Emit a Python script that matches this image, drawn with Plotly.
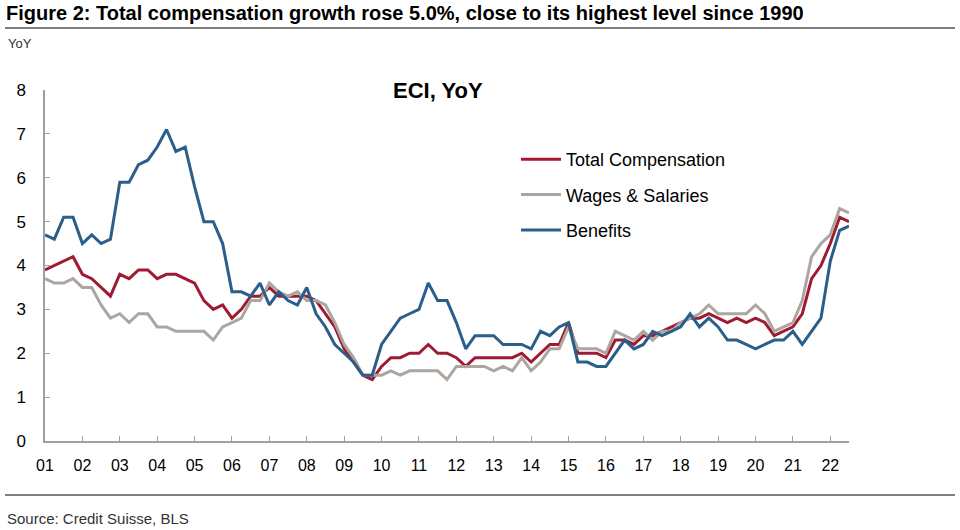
import plotly.graph_objects as go

# ---- data (quarterly, 2001Q1 .. 2022Q3) ----
start_year = 2001
total_comp = [3.9, 4.0, 4.1, 4.2, 3.8, 3.7, 3.5, 3.3, 3.8, 3.7, 3.9, 3.9, 3.7, 3.8, 3.8, 3.7,
              3.6, 3.2, 3.0, 3.1, 2.8, 3.0, 3.3, 3.3, 3.5, 3.3, 3.3, 3.3, 3.3, 3.2, 2.9, 2.6,
              2.1, 1.8, 1.5, 1.4, 1.7, 1.9, 1.9, 2.0, 2.0, 2.2, 2.0, 2.0, 1.9, 1.7, 1.9, 1.9,
              1.9, 1.9, 1.9, 2.0, 1.8, 2.0, 2.2, 2.2, 2.7, 2.0, 2.0, 2.0, 1.9, 2.3, 2.3, 2.2,
              2.4, 2.4, 2.5, 2.6, 2.7, 2.8, 2.8, 2.9, 2.8, 2.7, 2.8, 2.7, 2.8, 2.7, 2.4, 2.5,
              2.6, 2.9, 3.7, 4.0, 4.5, 5.1, 5.0]
wages = [3.7, 3.6, 3.6, 3.7, 3.5, 3.5, 3.1, 2.8, 2.9, 2.7, 2.9, 2.9, 2.6, 2.6, 2.5, 2.5,
         2.5, 2.5, 2.3, 2.6, 2.7, 2.8, 3.2, 3.2, 3.6, 3.4, 3.3, 3.4, 3.2, 3.2, 3.1, 2.7,
         2.2, 1.9, 1.5, 1.5, 1.5, 1.6, 1.5, 1.6, 1.6, 1.6, 1.6, 1.4, 1.7, 1.7, 1.7, 1.7,
         1.6, 1.7, 1.6, 1.9, 1.6, 1.8, 2.1, 2.1, 2.6, 2.1, 2.1, 2.1, 2.0, 2.5, 2.4, 2.3,
         2.5, 2.3, 2.5, 2.5, 2.7, 2.8, 2.9, 3.1, 2.9, 2.9, 2.9, 2.9, 3.1, 2.9, 2.5, 2.6,
         2.7, 3.2, 4.2, 4.5, 4.7, 5.3, 5.2]
benefits = [4.7, 4.6, 5.1, 5.1, 4.5, 4.7, 4.5, 4.6, 5.9, 5.9, 6.3, 6.4, 6.7, 7.1, 6.6, 6.7,
            5.8, 5.0, 5.0, 4.5, 3.4, 3.4, 3.3, 3.6, 3.1, 3.4, 3.2, 3.1, 3.5, 2.9, 2.6, 2.2,
            2.0, 1.8, 1.5, 1.5, 2.2, 2.5, 2.8, 2.9, 3.0, 3.6, 3.2, 3.2, 2.7, 2.1, 2.4, 2.4,
            2.4, 2.2, 2.2, 2.2, 2.1, 2.5, 2.4, 2.6, 2.7, 1.8, 1.8, 1.7, 1.7, 2.0, 2.3, 2.1,
            2.2, 2.5, 2.4, 2.5, 2.6, 2.9, 2.6, 2.8, 2.6, 2.3, 2.3, 2.2, 2.1, 2.2, 2.3, 2.3,
            2.5, 2.2, 2.5, 2.8, 4.1, 4.8, 4.9]
x_dates = [start_year + i * 0.25 for i in range(len(total_comp))]
tick_years = list(range(2001, 2023))
tick_labels = [f"{y % 100:02d}" for y in tick_years]

series_names = ["Total Compensation", "Wages & Salaries", "Benefits"]
series_colors = ["#9E1B32", "#ADA59F", "#2A5E8B"]

# ---- layout geometry (window pixels) ----
W, H = 960, 530
L, R, T, B = 45, 849, 90, 441  # plot area

def px(x):
    return (x - L) / (R - L)

def py(y):
    return (B - y) / (B - T)

FONT = "Arial, Liberation Sans, Helvetica, sans-serif"

fig = go.Figure()
for name, vals, col in zip(series_names, [total_comp, wages, benefits], series_colors):
    fig.add_trace(go.Scatter(x=x_dates, y=vals, mode="lines", name=name,
                             legendgroup=name,
                             line=dict(color=col, width=3)))

fig.update_layout(
    width=W, height=H,
    margin=dict(l=L, r=W - R, t=T, b=H - B),
    paper_bgcolor="white", plot_bgcolor="white",
    font=dict(family=FONT, size=16, color="black"),
    showlegend=True,
    legend=dict(x=px(516), y=py(141), xanchor="left", yanchor="top",
                bgcolor="rgba(0,0,0,0)", font=dict(size=18, color="black"),
                tracegroupgap=9, itemwidth=40),
    xaxis=dict(range=[2001, 2022.5], tickvals=tick_years, ticktext=tick_labels,
               showline=True, linecolor="#A0A0A0", linewidth=1.5,
               ticks="inside", ticklen=5, tickcolor="#A0A0A0", tickwidth=1,
               showgrid=False, zeroline=False, ticklabelstandoff=9,
               tickfont=dict(size=16, color="black")),
    yaxis=dict(range=[0, 8], dtick=1, tick0=0,
               showline=True, linecolor="#A0A0A0", linewidth=1.5,
               ticks="inside", ticklen=5, tickcolor="#A0A0A0", tickwidth=1,
               showgrid=False, zeroline=False, ticklabelstandoff=14,
               tickfont=dict(size=17, color="black")),
)

# header / footer
fig.add_annotation(xref="paper", yref="paper", x=px(4), y=py(13), xanchor="left", yanchor="middle",
                   text="<b>Figure 2: Total compensation growth rose 5.0%, close to its highest level since 1990</b>",
                   showarrow=False, font=dict(size=20, color="black", family=FONT))
fig.add_shape(type="line", xref="paper", yref="paper", x0=px(5), x1=px(955), y0=py(28), y1=py(28),
              line=dict(color="#555555", width=1.5))
fig.add_annotation(xref="paper", yref="paper", x=px(6), y=py(43), xanchor="left", yanchor="middle",
                   text="YoY", showarrow=False, font=dict(size=13, color="#333333", family=FONT))
fig.add_annotation(xref="paper", yref="paper", x=px(438), y=py(90), xanchor="center", yanchor="middle",
                   text="<b>ECI, YoY</b>", showarrow=False, font=dict(size=22, color="black", family=FONT))
fig.add_shape(type="line", xref="paper", yref="paper", x0=px(5), x1=px(955), y0=py(495), y1=py(495),
              line=dict(color="#555555", width=1.5))
fig.add_annotation(xref="paper", yref="paper", x=px(5), y=py(518), xanchor="left", yanchor="middle",
                   text="Source: Credit Suisse, BLS", showarrow=False,
                   font=dict(size=15, color="#333333", family=FONT))

# remove the browser's default 8px page margin so the figure fills the window
fig.write_html("out.html",
               config={"displayModeBar": False},
               post_script="document.body.style.margin='0';document.body.style.overflow='hidden';")
